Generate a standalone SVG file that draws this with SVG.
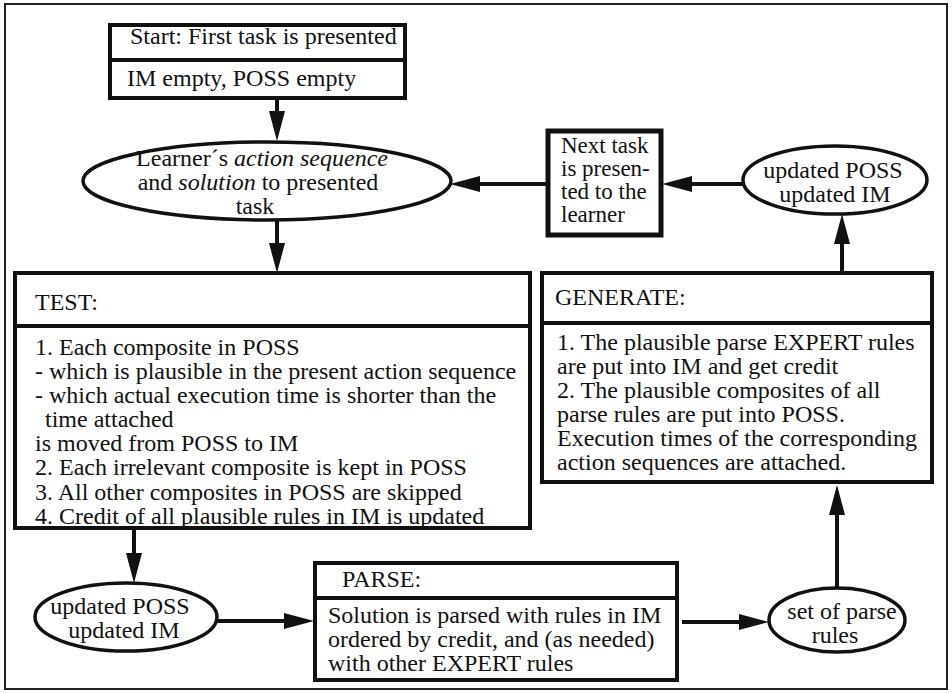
<svg xmlns="http://www.w3.org/2000/svg" width="952" height="692" viewBox="0 0 952 692">
<style>
text{font-family:"Liberation Serif","Times New Roman",serif;font-size:24px;fill:#111}
.sm{font-size:23px}
.box{fill:#fff;stroke:#111;stroke-width:4}
.div{stroke:#111;stroke-width:4}
.ell{fill:#fff;stroke:#111;stroke-width:3.5}
.c{text-anchor:middle}
.conn path{fill:none;stroke:#111;stroke-width:4}
</style>
<defs>
<marker id="ah" markerUnits="userSpaceOnUse" markerWidth="32" markerHeight="18" refX="2" refY="9" orient="auto">
<path d="M0,1 L30,9 L0,17 z" fill="#111"/>
</marker>
</defs>
<rect x="0" y="0" width="952" height="692" fill="#fff"/>
<rect x="5" y="4" width="942" height="685" fill="none" stroke="#222" stroke-width="2"/>

<g class="conn">
<path d="M277,98 V113" marker-end="url(#ah)"/>
<path d="M277,220 V245" marker-end="url(#ah)"/>
<path d="M548,184 H478" marker-end="url(#ah)"/>
<path d="M743,184 H690" marker-end="url(#ah)"/>
<path d="M842,273 V242" marker-end="url(#ah)"/>
<path d="M134,528 V555" marker-end="url(#ah)"/>
<path d="M217,621 H286" marker-end="url(#ah)"/>
<path d="M682,622 H741" marker-end="url(#ah)"/>
<path d="M837,588 V513" marker-end="url(#ah)"/>
</g>

<g id="start">
<rect class="box" x="110" y="25" width="295" height="73"/>
<line class="div" x1="110" y1="60" x2="405" y2="60"/>
<text x="130" y="44">Start: First task is presented</text>
<text x="127" y="86">IM empty, POSS empty</text>
</g>

<g id="learner">
<ellipse class="ell" cx="267" cy="181" rx="184" ry="39"/>
<text class="c" x="262" y="166">Learner´s <tspan font-style="italic">action sequence</tspan></text>
<text class="c" x="258" y="190">and <tspan font-style="italic">solution</tspan> to presented</text>
<text class="c" x="255" y="214">task</text>
</g>

<g id="nexttask">
<rect x="548" y="131" width="113" height="104" fill="#fff" stroke="#111" stroke-width="5"/>
<text class="sm" x="561" y="153">Next task</text>
<text class="sm" x="561" y="176">is presen-</text>
<text class="sm" x="561" y="199">ted to the</text>
<text class="sm" x="561" y="222">learner</text>
</g>

<g id="updated-top">
<ellipse class="ell" cx="835" cy="180" rx="92" ry="34"/>
<text class="c" x="833" y="178">updated POSS</text>
<text class="c" x="835" y="202">updated IM</text>
</g>

<g id="test">
<rect class="box" x="15" y="273" width="515" height="255"/>
<line class="div" x1="15" y1="326" x2="530" y2="326"/>
<text x="35" y="310">TEST:</text>
<text x="35" y="355">1. Each composite in POSS</text>
<text x="35" y="379">- which is plausible in the present action sequence</text>
<text x="35" y="403">- which actual execution time is shorter than the</text>
<text x="45" y="427">time attached</text>
<text x="35" y="451">is moved from POSS to IM</text>
<text x="35" y="475">2. Each irrelevant composite is kept in POSS</text>
<text x="35" y="500">3. All other composites in POSS are skipped</text>
<text x="35" y="524">4. Credit of all plausible rules in IM is updated</text>
</g>

<g id="generate">
<rect class="box" x="542" y="273" width="390" height="209"/>
<line class="div" x1="542" y1="323" x2="932" y2="323"/>
<text x="555" y="305">GENERATE:</text>
<text x="557" y="350">1. The plausible parse EXPERT rules</text>
<text x="557" y="374">are put into IM and get credit</text>
<text x="557" y="398">2. The plausible composites of all</text>
<text x="557" y="422">parse rules are put into POSS.</text>
<text x="557" y="446">Execution times of the corresponding</text>
<text x="557" y="470">action sequences are attached.</text>
</g>

<g id="updated-bottom">
<ellipse class="ell" cx="126" cy="617" rx="91" ry="34"/>
<text class="c" x="120" y="614">updated POSS</text>
<text class="c" x="124" y="638">updated IM</text>
</g>

<g id="parse">
<rect class="box" x="315" y="563" width="362" height="117"/>
<line class="div" x1="315" y1="598" x2="677" y2="598"/>
<text x="342" y="587">PARSE:</text>
<text x="328" y="623">Solution is parsed with rules in IM</text>
<text x="328" y="647">ordered by credit, and (as needed)</text>
<text x="328" y="671">with other EXPERT rules</text>
</g>

<g id="setrules">
<ellipse class="ell" cx="837" cy="620" rx="68" ry="32"/>
<text class="c" x="842" y="619">set of parse</text>
<text class="c" x="835" y="643">rules</text>
</g>
</svg>
